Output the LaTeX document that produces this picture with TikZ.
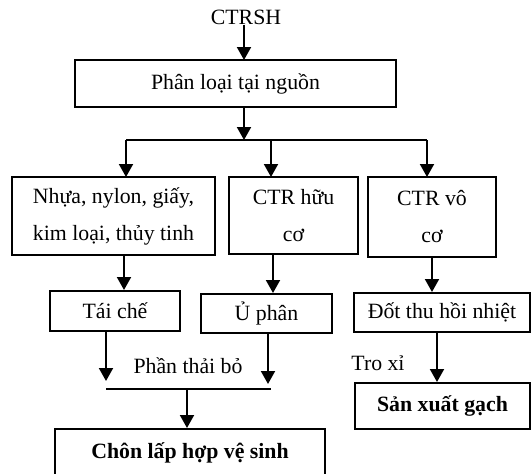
\documentclass[tikz,border=0pt]{standalone}
\usepackage{fontspec}
\setmainfont{Liberation Serif}
\usetikzlibrary{arrows.meta}
\begin{document}
\begin{tikzpicture}[x=1pt,y=-1pt,
  box/.style={draw,line width=2pt,inner sep=0pt,align=center,font=\fontsize{21.8}{37}\selectfont},
  lbl/.style={inner sep=0pt,font=\fontsize{21.8}{24}\selectfont},
  arr/.style={line width=2pt,-{Triangle[width=14pt,length=13pt]}},
  thin/.style={line width=1.3pt}]
\useasboundingbox (0,0) rectangle (531,474);
\clip (0,0) rectangle (531,474);
% labels
\node[lbl] (src) at (246,17) {CTRSH};
% boxes
\node[box,minimum width=321pt,minimum height=47pt] (pl) at (235.5,83.5) {Phân loại tại nguồn};
\node[box,minimum width=203pt,minimum height=78pt] (b1) at (113.5,216) {Nhựa, nylon, giấy,\\kim loại, thủy tinh};
\node[box,minimum width=129pt,minimum height=77pt] (b2) at (293.5,215.5) {CTR hữu\\cơ};
\node[box,minimum width=128pt,minimum height=80pt] (b3) at (432,217) {CTR vô\\cơ};
\node[box,minimum width=130pt,minimum height=40pt] (tc) at (115,311) {Tái chế};
\node[box,minimum width=131pt,minimum height=39pt] (up) at (266.5,313.5) {Ủ phân};
\node[box,minimum width=176pt,minimum height=39pt] (dt) at (442,312.5) {Đốt thu hồi nhiệt};
\node[box,minimum width=175pt,minimum height=46pt,font=\fontsize{21.8}{24}\selectfont\bfseries] (sx) at (442.5,406) {Sản xuất gạch};
\node[box,minimum width=270pt,minimum height=48pt,font=\fontsize{21.8}{24}\selectfont\bfseries] (cl) at (190,453) {Chôn lấp hợp vệ sinh};
\node[lbl] (ptb) at (188,366) {Phần thải bỏ};
\node[lbl] (tx) at (378,363) {Tro xỉ};
% coordinates
\coordinate (plin) at (244,60);
\coordinate (plout) at (244,107);
\coordinate (j0) at (244,140);
\coordinate (jl) at (126,140);
\coordinate (jm) at (271,140);
\coordinate (jr) at (427,140);
\coordinate (t1) at (126,177);
\coordinate (t2) at (271,177);
\coordinate (t3) at (427,177);
\coordinate (r1) at (106,389);
\coordinate (r2) at (268,389);
\coordinate (rm) at (187,389);
% connectors
\draw[arr] (src.south -| plin) -- (plin);
\draw[arr] (plout) -- (j0);
\draw[thin] (jl) -- (jr);
\draw[arr] (jl) -- (t1);
\draw[arr] (jm) -- (t2);
\draw[arr] (jr) -- (t3);
\draw[arr] (b1.south -| 124,0) -- (tc.north -| 124,0);
\draw[arr] (b2.south -| 273,0) -- (up.north -| 273,0);
\draw[arr] (b3.south -| 432,0) -- (dt.north -| 432,0);
\draw[arr] (tc.south -| r1) -- ([yshift=8pt]r1);
\draw[arr] (up.south -| r2) -- ([yshift=5pt]r2);
\draw[thin] (r1) -- (r2 -| 271,0);
\draw[arr] (rm) -- (cl.north -| rm);
\draw[arr] (dt.south -| 437,0) -- (sx.north -| 437,0);
\end{tikzpicture}
\end{document}
